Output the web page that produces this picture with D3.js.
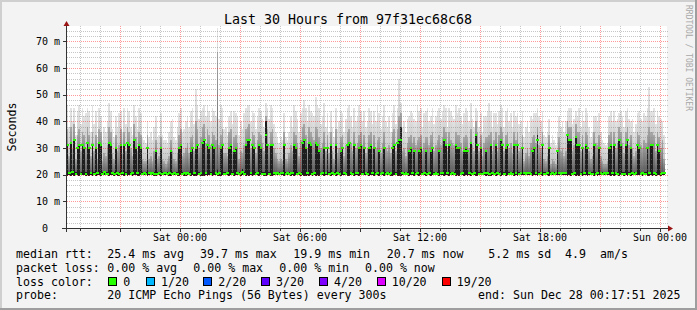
<!DOCTYPE html>
<meta charset="utf-8">
<style>
body{margin:0;background:#f3f3f3;}
text{font-family:"DejaVu Sans Mono",monospace;white-space:pre;fill:#000;}
.grid line{shape-rendering:crispEdges;stroke-dasharray:1,1;}
.smoke rect,.med rect{shape-rendering:crispEdges;}
</style>
<svg id="chart" width="697" height="310"></svg>
<script src="https://cdnjs.cloudflare.com/ajax/libs/d3/7.8.5/d3.min.js" charset="utf-8"></script>
<script>
// 5 minute samples, Fri 18:20 .. Sun 00:15 (UTC), 12 per row = one hour
var firstSample = Date.UTC(2025, 11, 26, 18, 20, 0);
var endTime = Date.UTC(2025, 11, 28, 0, 17, 51);
var stepMs = 300 * 1000;

// median rtt (ms)
var medianRtt = [
20.3,31,20.6,32,21,33,20.1,30,31,20.4,31,30,
20.2,32,30,20.5,31,20.1,30,20.8,32,31,20.3,21,
20.4,20.1,32,31,20.5,20.2,30,20.6,20.3,31,20.7,31,
20.4,32,31,20.3,20.8,33,30,20.6,31,30,20.2,20.5,
20.3,30,20.5,20.2,20.7,20.4,29,20.1,20.6,30,20.3,20.8,
20.5,20.2,20.8,29,20.3,20.6,20.1,20.4,30,31,20.2,20.7,
20.3,20.6,20.2,29,30,20.5,30,31,20.4,20.7,32,33,
20.5,31,30,20.3,31,30,20.6,20.2,20.8,30,31,20.4,
20.4,20.7,30,31,20.2,29,30,20.5,20.3,20.6,21,20.4,
31,33,33,20.5,31,30,20.3,20.6,31,30,20.4,20.2,
35,31,20.4,31,31,20.6,20.3,20.7,20.2,20.5,20.8,31,
20.3,20.6,20.2,20.5,20.8,31,30,20.4,20.7,20.3,32,33,
30,20.5,32,31,20.2,20.6,32,31,29,20.4,20.7,30,
20.6,30,20.3,31,20.5,20.2,31,20.7,20.4,29,30,20.5,
20.3,31,32,20.6,20.2,31,20.5,20.8,30,31,20.4,30,
20.5,20.2,30,31,20.7,30,20.3,20.6,29,20.4,20.8,30,
20.4,20.7,20.2,20.5,30,31,20.3,32,33,33,20.6,20.2,
20.6,20.3,29,30,20.5,29,20.2,20.7,29,30,20.4,20.8,
29,20.4,20.7,29,30,20.3,20.6,20.2,29,20.5,20.8,33,
31,20.5,31,20.2,20.6,20.4,31,30,30,20.3,20.7,29,
30,29,20.5,32,20.3,20.6,35,31,20.4,30,20.2,20.5,
29,20.6,20.3,31,20.5,20.2,31,20.7,20.4,33,31,20.3,
30,31,20.4,20.7,20.2,31,20.5,31,20.3,20.6,30,20.8,
20.2,20.5,20.8,20.3,29,30,20.6,33,20.4,20.7,31,20.2,
20.4,20.7,30,20.3,20.5,20.2,20.6,29,20.8,20.3,20.5,20.7,
20.5,35,33,33,20.3,20.6,34,31,31,20.4,30,20.7,
31,30,20.6,20.4,20.2,31,20.3,20.7,30,20.5,20.3,20.6,
20.4,20.7,30,31,20.5,31,20.6,20.2,33,31,20.4,20.3,
31,33,20.4,30,20.6,20.3,20.5,31,30,20.2,20.7,20.4,
20.3,30,20.6,31,31,20.5,20.2,31,29,20.4,20.7,20.5];

// lowest ping of each sample (ms)
var loRtt = [
19.7,19.6,19.8,19.6,19.7,19.5,19.8,19.7,19.6,19.8,19.7,19.8,
19.6,19.7,19.5,19.8,19.6,19.7,19.6,19.8,19.7,19.5,19.8,19.7,
19.8,19.7,19.6,19.7,19.8,19.6,19.7,19.5,19.6,19.7,19.8,19.6,
19.7,19.5,19.8,19.7,19.6,19.7,19.8,19.6,19.5,19.7,19.8,19.7,
19.8,19.6,19.7,19.8,19.7,19.6,19.5,19.8,19.7,19.6,19.8,19.7,
19.7,19.8,19.6,19.5,19.7,19.8,19.7,19.6,19.5,19.7,19.8,19.6,
19.6,19.7,19.8,19.6,19.7,19.5,19.6,19.8,19.7,19.6,19.5,19.6,
19.7,19.5,19.8,19.7,19.6,19.8,19.7,19.4,19.6,19.5,19.7,19.8,
19.8,19.7,19.6,19.8,19.7,19.6,19.8,19.7,19.8,19.6,19.7,19.8,
19.6,19.7,19.5,19.8,19.6,19.7,19.8,19.7,19.6,19.8,19.7,19.6,
19.5,19.7,19.8,19.6,19.5,19.7,19.8,19.7,19.8,19.7,19.8,19.6,
19.7,19.8,19.7,19.6,19.8,19.6,19.7,19.8,19.7,19.6,19.7,19.5,
19.6,19.7,19.5,19.7,19.6,19.8,19.5,19.7,19.6,19.7,19.8,19.6,
19.8,19.7,19.8,19.6,19.7,19.8,19.6,19.7,19.8,19.6,19.7,19.8,
19.7,19.6,19.5,19.7,19.8,19.6,19.7,19.8,19.6,19.7,19.8,19.7,
19.8,19.7,19.6,19.8,19.7,19.6,19.8,19.7,19.6,19.8,19.7,19.6,
19.7,19.8,19.7,19.6,19.6,19.7,19.8,19.6,19.5,19.6,19.7,19.8,
19.8,19.7,19.6,19.8,19.7,19.6,19.8,19.7,19.6,19.7,19.8,19.7,
19.6,19.8,19.7,19.6,19.8,19.7,19.8,19.7,19.6,19.7,19.8,19.5,
19.7,19.8,19.6,19.7,19.8,19.7,19.6,19.8,19.6,19.7,19.8,19.6,
19.8,19.6,19.7,19.5,19.7,19.8,19.5,19.6,19.8,19.7,19.8,19.7,
19.6,19.7,19.5,19.6,19.8,19.7,19.6,19.8,19.7,19.5,19.8,19.7,
19.6,19.8,19.7,19.8,19.7,19.6,19.8,19.6,19.7,19.8,19.7,19.8,
19.7,19.8,19.7,19.8,19.6,19.7,19.8,19.5,19.7,19.8,19.6,19.7,
19.8,19.7,19.6,19.8,19.7,19.8,19.7,19.8,19.7,19.8,19.7,19.8,
19.7,19.5,19.8,19.6,19.7,19.8,19.5,19.7,19.6,19.8,19.6,19.7,
19.8,19.6,19.7,19.8,19.7,19.6,19.8,19.6,19.7,19.8,19.7,19.8,
19.8,19.7,19.8,19.6,19.7,19.6,19.8,19.7,19.5,19.7,19.8,19.6,
19.7,19.5,19.8,19.6,19.7,19.8,19.7,19.8,19.7,19.8,19.5,19.7,
19.8,19.6,19.5,19.7,19.6,19.8,19.6,19.7,19.8,19.6,19.7,19.8];

// top of the dense (dark) smoke band (ms)
var innerRtt = [
21,31,21,32,21,33,21,30,31,21,31,30,
21,32,30,21,31,21,30,21,32,31,21,21,
21,21,32,31,21,21,30,21,21,31,21,31,
21,32,31,21,21,33,30,21,31,30,21,21,
21,30,21,21,21,21,29,21,21,30,21,21,
21,21,21,29,21,21,21,21,30,31,21,21,
21,21,21,29,30,21,30,31,21,21,32,33,
21,31,30,21,31,30,21,22,21,30,31,21,
21,21,30,31,21,29,30,21,21,21,22,21,
31,33,33,21,31,30,21,21,31,30,21,21,
40,31,21,31,31,21,21,21,21,21,21,31,
21,21,21,21,21,31,30,21,21,21,32,33,
30,21,32,31,21,21,32,31,29,21,21,30,
21,30,21,31,21,21,31,21,21,29,30,21,
21,31,32,21,21,31,21,21,30,31,21,30,
21,21,30,31,21,30,21,21,29,21,21,30,
21,21,21,21,30,31,21,32,33,38,21,21,
21,21,29,30,21,29,21,21,29,30,21,21,
29,21,21,29,30,21,21,21,29,21,21,33,
31,21,31,21,21,21,31,30,30,21,21,29,
30,29,21,32,21,21,35,31,21,30,21,21,
29,21,21,31,21,21,31,21,21,33,31,21,
30,31,21,21,21,31,21,31,21,21,30,21,
21,21,21,21,29,30,21,35,21,21,31,21,
21,21,30,21,21,21,21,29,21,21,21,21,
21,35,33,33,21,21,34,31,31,21,30,21,
31,30,21,21,21,31,21,21,30,21,21,21,
21,21,30,31,21,31,21,21,33,31,21,21,
31,33,21,30,21,21,21,31,30,21,21,21,
21,30,21,31,31,21,21,31,29,21,21,21];

// top of the medium smoke band (ms)
var midRtt = [
29,37,27,38,30,39,26,35,37,29,36,35,
30,38,35,27,36,29,35,26,37,36,25,28,
27,31,38,36,28,26,35,29,31,37,28,36,
29,38,36,30,27,39,34,29,36,35,26,25,
25,35,26,27,25,29,33,26,27,34,26,25,
24,25,27,33,29,26,25,28,35,37,27,28,
30,32,28,34,35,29,40,37,30,34,38,39,
32,37,35,31,36,35,33,66,31,35,37,28,
28,27,36,37,29,34,35,32,26,29,28,31,
37,38,39,30,36,35,28,33,36,35,32,29,
42,37,31,36,37,30,28,26,25,26,25,36,
26,25,28,31,29,36,35,32,27,33,38,39,
35,30,38,36,34,33,38,37,34,30,32,36,
29,35,28,36,29,26,37,28,30,34,35,27,
31,36,37,32,29,36,30,32,35,36,31,35,
28,30,35,36,30,35,30,33,34,28,32,36,
30,29,31,28,36,37,29,37,42,43,29,30,
27,32,34,35,32,34,31,33,34,35,29,32,
34,34,31,35,36,29,31,33,35,31,34,38,
36,29,36,33,32,31,36,35,35,32,29,34,
35,34,30,37,31,29,40,36,29,35,27,32,
34,34,35,36,29,33,36,29,35,38,36,29,
35,36,30,32,28,36,33,36,29,30,35,25,
28,30,27,32,34,35,32,38,31,30,36,26,
25,27,35,24,26,25,24,25,34,29,30,27,
29,40,38,38,29,31,39,36,36,29,35,30,
36,35,29,26,27,36,32,31,35,27,25,24,
24,25,35,36,29,36,30,32,38,36,32,28,
36,38,31,35,30,27,29,36,35,31,30,33,
32,35,38,36,36,35,29,36,34,30,33,26];

// highest ping of each sample (ms)
var maxRtt = [
44,46,38,45,40,45,35,44,46,39,45,42,
43,45,44,36,46,39,44,34,45,42,33,38,
36,40,47,44,37,34,42,38,43,44,36,45,
39,45,44,38,35,46,42,37,45,43,34,33,
32,40,34,36,33,38,42,34,35,43,35,33,
33,32,36,40,41,34,33,38,43,45,36,37,
40,42,38,44,45,39,52,46,41,44,45,46,
42,46,44,40,45,44,42,75,41,46,45,37,
38,35,42,44,39,44,43,42,35,40,37,43,
45,46,46,40,44,43,37,42,45,44,41,38,
47,45,41,46,45,39,36,34,32,34,33,43,
34,33,36,42,38,46,44,41,36,43,45,48,
45,40,46,44,43,42,49,46,45,39,42,47,
38,43,36,44,38,34,45,37,40,44,43,36,
41,45,46,42,38,45,40,42,46,44,40,44,
38,40,45,44,39,44,40,46,43,37,42,46,
40,38,42,36,43,46,39,45,56,47,38,40,
36,41,42,44,43,41,40,46,44,45,38,43,
44,45,40,42,45,39,42,44,45,41,44,46,
45,38,45,44,42,41,46,43,45,42,39,43,
45,44,40,47,41,38,45,44,38,43,36,42,
42,44,47,44,38,43,43,39,44,46,45,38,
44,45,40,43,38,44,42,43,39,40,44,34,
38,40,36,42,41,43,43,45,42,40,44,35,
34,36,41,32,35,33,31,36,42,38,40,36,
40,44,45,45,39,41,44,42,45,38,44,40,
45,43,38,34,36,42,42,40,43,36,33,32,
31,32,42,44,40,44,40,41,43,44,42,38,
44,45,41,40,41,36,39,43,44,41,40,43,
42,45,53,44,44,45,39,44,42,41,40,35];

var yTicks = [0, 10, 20, 30, 40, 50, 60, 70];
var yTickLabels = ["0  ", "10 m", "20 m", "30 m", "40 m", "50 m", "60 m", "70 m"];
var lossLabels = ["0", "1/20", "2/20", "3/20", "4/20", "10/20", "19/20"];
var lossColors = ["#26ff00", "#00b8ff", "#0059ff", "#5e00ff", "#7e00ff", "#dd00ff", "#ff0000"];
var rttStats = ["25.4 ms avg", "39.7 ms max", "19.9 ms min", "20.7 ms now", "5.2 ms sd", "4.9", "am/s"];
var lossStats = ["0.00 % avg", "0.00 % max", "0.00 % min", "0.00 % now"];

var W = 697, H = 310;
var plot = {left: 67, right: 667, top: 26, bottom: 228};

var x = d3.scaleTime()
	.domain([new Date(endTime - 30 * 3600 * 1000), new Date(endTime)])
	.range([66, 666]);
var y = d3.scaleLinear()
	.domain([0, 75.75])
	.range([228, 26]);

var svg = d3.select("#chart");

// smoke shading, dark at the bottom of each band
var defs = svg.append("defs");
function grad(id, c0, c1){
	var g = defs.append("linearGradient").attr("id", id)
		.attr("x1", 0).attr("y1", 1).attr("x2", 0).attr("y2", 0);
	g.append("stop").attr("offset", 0).attr("stop-color", c0);
	g.append("stop").attr("offset", 1).attr("stop-color", c1);
}
grad("gHi", "#b0b0b0", "#e4e4e4");
grad("gMid", "#555555", "#a9a9a9");

// background + 3d frame
svg.append("rect").attr("width", W).attr("height", H).attr("fill", "#f3f3f3");
svg.append("rect").attr("x", 0).attr("y", 0).attr("width", W).attr("height", 2).attr("fill", "#cfcfcf");
svg.append("rect").attr("x", 0).attr("y", 0).attr("width", 2).attr("height", H).attr("fill", "#cfcfcf");
svg.append("rect").attr("x", 0).attr("y", H - 2).attr("width", W).attr("height", 2).attr("fill", "#9e9e9e");
svg.append("rect").attr("x", W - 2).attr("y", 0).attr("width", 2).attr("height", H).attr("fill", "#9e9e9e");

svg.append("rect")
	.attr("x", plot.left).attr("y", plot.top)
	.attr("width", plot.right - plot.left).attr("height", plot.bottom - plot.top)
	.attr("fill", "#fff");

svg.append("clipPath").attr("id", "clip")
	.append("rect")
	.attr("x", plot.left).attr("y", plot.top)
	.attr("width", plot.right - plot.left).attr("height", plot.bottom - plot.top);

var data = medianRtt.map(function(m, i){
	var t = firstSample + i * stepMs;
	return {t0: new Date(t - stepMs), t1: new Date(t), med: m,
		lo: loRtt[i], inner: innerRtt[i], mid: midRtt[i], hi: maxRtt[i]};
});

// smoke, lightest first
var layers = [["hi", "url(#gHi)"], ["mid", "url(#gMid)"], ["inner", "#1e1e1e"]];
var smoke = svg.append("g").attr("class", "smoke").attr("clip-path", "url(#clip)");
layers.forEach(function(l){
	smoke.append("g").selectAll("rect")
		.data(data)
	.enter().append("rect")
		.attr("x", function(d){ return x(d.t0); })
		.attr("width", function(d){ return x(d.t1) - x(d.t0); })
		.attr("y", function(d){ return y(d[l[0]]); })
		.attr("height", function(d){ return y(d.lo) - y(d[l[0]]); })
		.attr("fill", l[1]);
});

// median dashes
svg.append("g").attr("class", "med").attr("clip-path", "url(#clip)")
	.selectAll("rect")
	.data(data)
.enter().append("rect")
	.attr("x", function(d){ return x(d.t0) - 0.5; })
	.attr("width", function(d){ return x(d.t1) - x(d.t0) + 1; })
	.attr("y", function(d){ return y(d.med) - 1; })
	.attr("height", 2)
	.attr("fill", lossColors[0]);

// grid
var grid = svg.append("g").attr("class", "grid");
var minorY = d3.range(2, 76, 2).filter(function(v){ return v % 10 !== 0; });
grid.selectAll(".hmin").data(minorY).enter().append("line")
	.attr("x1", plot.left).attr("x2", plot.right + 1)
	.attr("y1", function(d){ return Math.round(y(d)) + 0.5; })
	.attr("y2", function(d){ return Math.round(y(d)) + 0.5; })
	.attr("stroke", "rgba(128,128,128,0.45)");
var hours = d3.utcHour.range(x.domain()[0], x.domain()[1]);
grid.selectAll(".vmin").data(hours.filter(function(h){ return h.getUTCHours() % 3 !== 0; })).enter().append("line")
	.attr("x1", function(d){ return Math.round(x(d)) + 0.5; })
	.attr("x2", function(d){ return Math.round(x(d)) + 0.5; })
	.attr("y1", plot.top).attr("y2", plot.bottom)
	.attr("stroke", "rgba(128,128,128,0.45)");
grid.selectAll(".hmaj").data(yTicks.slice(1)).enter().append("line")
	.attr("x1", plot.left).attr("x2", plot.right + 1)
	.attr("y1", function(d){ return Math.round(y(d)) + 0.5; })
	.attr("y2", function(d){ return Math.round(y(d)) + 0.5; })
	.attr("stroke", "rgba(255,0,0,0.4)");
grid.selectAll(".vmaj").data(hours.filter(function(h){ return h.getUTCHours() % 3 === 0; })).enter().append("line")
	.attr("x1", function(d){ return Math.round(x(d)) + 0.5; })
	.attr("x2", function(d){ return Math.round(x(d)) + 0.5; })
	.attr("y1", plot.top).attr("y2", plot.bottom)
	.attr("stroke", "rgba(255,0,0,0.4)");

// axes
var axis = svg.append("g").attr("shape-rendering", "crispEdges");
axis.append("line").attr("x1", 62).attr("x2", 670).attr("y1", 228.5).attr("y2", 228.5).attr("stroke", "#333");
axis.append("line").attr("x1", 66.5).attr("x2", 66.5).attr("y1", 232).attr("y2", 25).attr("stroke", "#333");
axis.selectAll(".yt").data(yTicks).enter().append("line")
	.attr("x1", 63).attr("x2", 66)
	.attr("y1", function(d){ return Math.round(y(d)) + 0.5; })
	.attr("y2", function(d){ return Math.round(y(d)) + 0.5; })
	.attr("stroke", "#333");
axis.selectAll(".xt").data(hours).enter().append("line")
	.attr("x1", function(d){ return Math.round(x(d)) + 0.5; })
	.attr("x2", function(d){ return Math.round(x(d)) + 0.5; })
	.attr("y1", 229)
	.attr("y2", function(d){ return d.getUTCHours() % 3 === 0 ? 232 : 231; })
	.attr("stroke", "#333");
svg.append("path").attr("d", "M668,225.5L673,228.5L668,231.5Z").attr("fill", "#9b1414");
svg.append("path").attr("d", "M63.5,26L66.5,21L69.5,26Z").attr("fill", "#9b1414");

// tick labels
svg.selectAll(".ylab").data(yTicks).enter().append("text")
	.attr("x", 60).attr("y", function(d){ return y(d) + 3.5; })
	.attr("text-anchor", "end")
	.style("font-size", "10px")
	.text(function(d, i){ return yTickLabels[i]; });
var fmt = d3.utcFormat("%a %H:%M");
svg.selectAll(".xlab").data(hours.filter(function(h){ return h.getUTCHours() % 6 === 0; })).enter().append("text")
	.attr("x", function(d){ return x(d); }).attr("y", 241)
	.attr("text-anchor", "middle")
	.style("font-size", "10px")
	.text(function(d){ return fmt(d); });

// titles
svg.append("text").attr("x", 348).attr("y", 24).attr("text-anchor", "middle")
	.style("font-size", "13.3px").text("Last 30 Hours from 97f31ec68c68");
svg.append("text").attr("transform", "translate(15.5,127) rotate(-90)").attr("text-anchor", "middle")
	.style("font-size", "11.6px").text("Seconds");
svg.append("text").attr("transform", "translate(685.5,5) rotate(90)")
	.style("font-size", "8px").style("fill", "#a8a8a8").text("RRDTOOL / TOBI OETIKER");

// legend
var leg = svg.append("g").style("font-size", "11.6px");
function item(tx, ty, s){ leg.append("text").attr("x", tx).attr("y", ty).text(s); }
item(16, 258.3, "median rtt:");
[107.3, 200, 293.3, 386.7, 488.3, 565, 600].forEach(function(px, i){ item(px, 258.3, rttStats[i]); });
item(16, 272, "packet loss:");
[107.3, 193.3, 279.3, 365].forEach(function(px, i){ item(px, 272, lossStats[i]); });
item(16, 285.7, "loss color:");
[108.3, 146, 203.3, 261, 319, 376.7, 441.7].forEach(function(px, i){
	leg.append("rect").attr("x", Math.round(px) + 0.5).attr("y", 277.5).attr("width", 8).attr("height", 8)
		.attr("fill", lossColors[i]).attr("stroke", "#000").attr("shape-rendering", "crispEdges");
	item(px + 15, 285.7, lossLabels[i]);
});
item(16, 299.4, "probe:");
item(107.3, 299.4, "20 ICMP Echo Pings (56 Bytes) every 300s");
leg.append("text").attr("x", 680.5).attr("y", 299.4).attr("text-anchor", "end").text("end: Sun Dec 28 00:17:51 2025");
</script>
